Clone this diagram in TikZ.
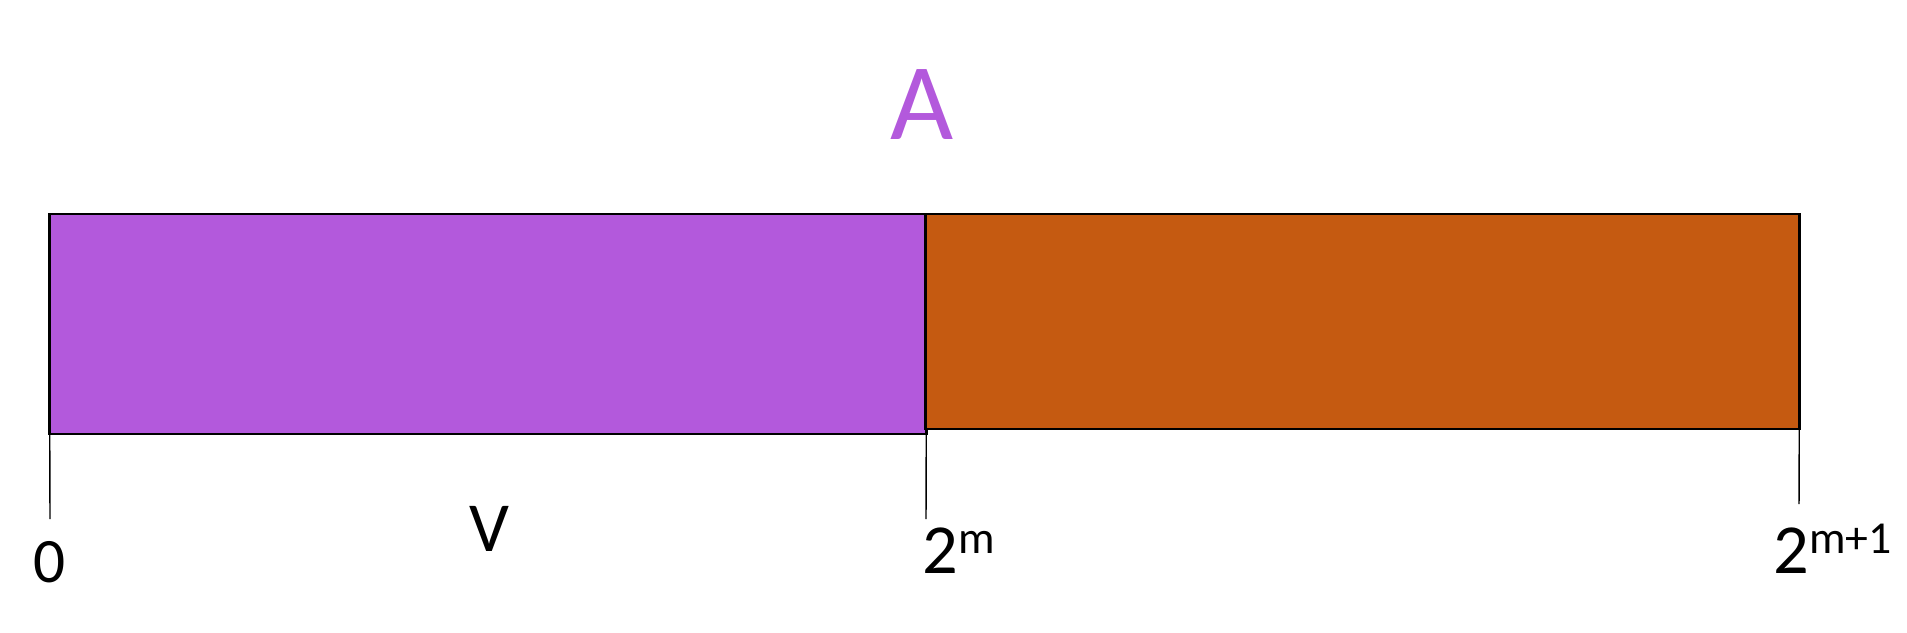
\documentclass[tikz,border=0pt]{standalone}
\usepackage{fontspec}
\setmainfont{Carlito}
\usepackage{tikz}
\definecolor{vpurple}{HTML}{B359DC}
\definecolor{uorange}{HTML}{C55A11}
\newcommand{\expo}[1]{\raisebox{0.2cm}{\fontsize{13}{15}\selectfont #1}}

\begin{document}
\begin{tikzpicture}[x=0.01cm,y=-0.01cm,
  seg/.style={draw,line width=0.8pt,inner sep=0,outer sep=0},
  tick/.style={line width=0.4pt},
  lbl/.style={inner sep=0,font=\fontsize{20}{24}\selectfont}]
\useasboundingbox (0,0) rectangle (1907,632);
\node [seg,fill=vpurple,minimum width=8.76cm,minimum height=2.20cm] (lo) at (488,324) {};
\node [seg,fill=uorange,minimum width=8.73cm,minimum height=2.15cm] (hi) at (1362.5,321.5) {};
\coordinate (t0) at (50,519);
\coordinate (t1) at (926,519);
\coordinate (t2) at (1799,504);
\draw [tick] (lo.south west) -- (t0);
\draw [tick] (lo.south east) -- (t1);
\draw [tick] (hi.south east) -- (t2);
\node [lbl,text=vpurple,font=\fontsize{31}{36}\selectfont,anchor=base] (a) at (922,139) {A};
\node [lbl,anchor=base,font=\fontsize{18}{22}\selectfont] (z) at (50,582) {0};
\node [lbl,anchor=base] (v) at (489,551) {V};
\node [lbl,anchor=base west] (m) at (922,573) {2\expo{m}};
\node [lbl,anchor=base west] (m1) at (1773,573) {2\expo{m+1}};
\end{tikzpicture}
\end{document}
